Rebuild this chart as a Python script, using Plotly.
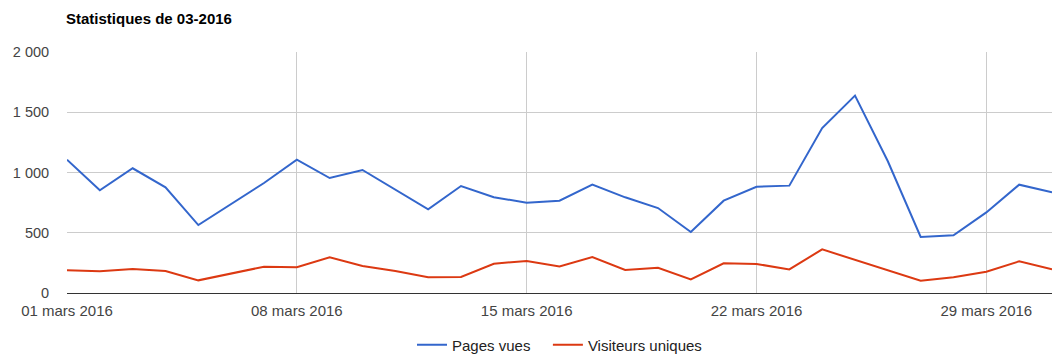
import plotly.graph_objects as go

days = list(range(1, 32))
dates = [f"2016-03-{d:02d}" for d in days]

pages_vues = [1106, 852, 1035, 877, 564, 740, 913, 1106, 954, 1021,
              857, 694, 888, 794, 750, 766, 899, 794, 705, 506,
              766, 882, 891, 1369, 1638, 1093, 465, 479, 669, 899, 835]
visiteurs_uniques = [188, 180, 199, 183, 105, 162, 218, 213, 296, 224,
                     183, 130, 133, 243, 266, 221, 299, 191, 210, 113,
                     246, 241, 196, 362, 277, 188, 102, 130, 177, 263, 196]

x_tickvals = ["2016-03-01", "2016-03-08", "2016-03-15", "2016-03-22", "2016-03-29"]
x_ticktext = ["01 mars 2016", "08 mars 2016", "15 mars 2016", "22 mars 2016", "29 mars 2016"]
y_tickvals = [0, 500, 1000, 1500, 2000]
y_ticktext = ["0", "500", "1 000", "1 500", "2 000"]

FONT = "Liberation Sans, Arial, sans-serif"
GAP = "\u00a0\u00a0\u00a0"

fig = go.Figure()
fig.add_trace(go.Scatter(x=dates, y=pages_vues, mode="lines", name="Pages vues" + GAP,
                         line=dict(color="#3366cc", width=2)))
fig.add_trace(go.Scatter(x=dates, y=visiteurs_uniques, mode="lines", name="Visiteurs uniques",
                         line=dict(color="#dc3912", width=2)))

fig.update_layout(
    width=1055, height=357,
    margin=dict(l=67, r=3, t=52, b=64, autoexpand=False),
    paper_bgcolor="white", plot_bgcolor="white",
    font=dict(family=FONT, size=14, color="#444"),
    title=dict(text="<b>Statistiques de 03-2016</b>", x=66/1055, xanchor="left", xref="container",
               y=1 - 19/357, yanchor="middle", yref="container",
               font=dict(family=FONT, size=15, color="#000")),
    showlegend=True,
    legend=dict(orientation="h", x=0.5, xanchor="center", y=1 - 345/357, yanchor="middle",
                yref="container",
                font=dict(family=FONT, size=15, color="#222"), traceorder="normal"),
)
fig.update_xaxes(
    type="date", range=["2016-03-01", "2016-03-31"],
    tickvals=x_tickvals, ticktext=x_ticktext,
    showgrid=True, gridcolor="#cccccc", gridwidth=1,
    ticks="outside", ticklen=4, tickcolor="rgba(0,0,0,0)",
    showline=False, zeroline=False, automargin=False,
    tickfont=dict(family=FONT, size=15, color="#444"),
)
fig.update_yaxes(
    range=[0, 2000], tickvals=y_tickvals, ticktext=y_ticktext,
    showgrid=True, gridcolor="#cccccc", gridwidth=1,
    zeroline=True, zerolinecolor="#333333", zerolinewidth=1,
    ticks="outside", ticklen=14, tickcolor="rgba(0,0,0,0)",
    showline=False, automargin=False,
    tickfont=dict(family=FONT, size=14.5, color="#444"),
)

fig.write_html("out.html", config={"displayModeBar": False},
               post_script="document.body.style.margin='0';")
